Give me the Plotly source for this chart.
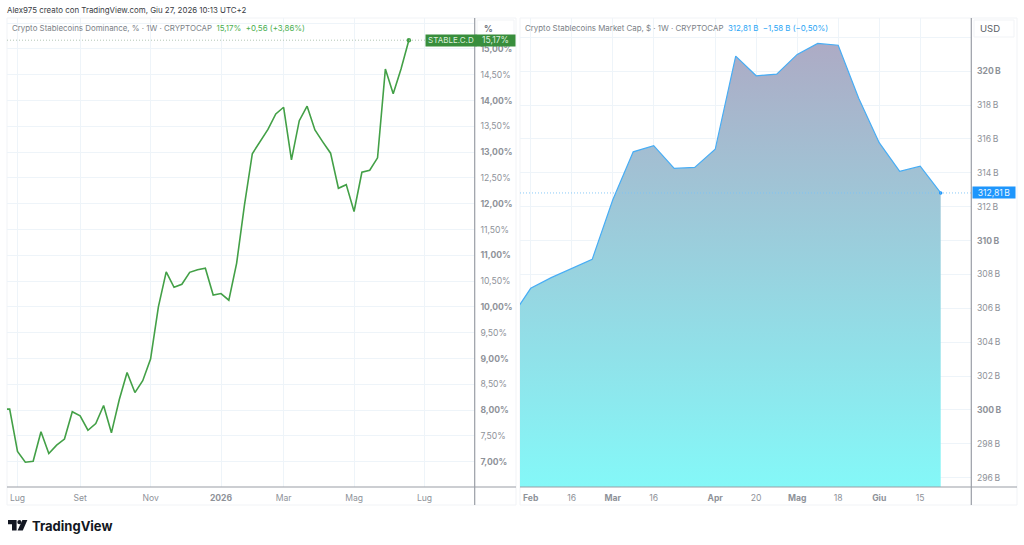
import pandas as pd
import plotly.graph_objects as go

W, H = 1024, 545

# ---- data ----
dominance_start = "2025-06-23"
dominance_values = [
    8.02, 8.02, 7.20, 6.99, 7.01, 7.58, 7.16, 7.32, 7.44, 7.97, 7.89, 7.61, 7.74,
    8.09, 7.56, 8.20, 8.73, 8.34, 8.57, 8.99, 10.00, 10.68, 10.38, 10.44, 10.67,
    10.72, 10.75, 10.23, 10.26, 10.13, 10.85, 11.98, 12.97, 13.20, 13.44, 13.74,
    13.87, 12.85, 13.61, 13.89, 13.43, 13.20, 12.98, 12.30, 12.37, 11.85, 12.61,
    12.65, 12.89, 14.61, 14.13, 14.61, 15.17,
]
mcap_start = "2026-01-26"
mcap_values = [
    305.37, 307.18, 307.81, 308.36, 308.89, 312.39, 315.24, 315.60, 314.26, 314.32,
    315.39, 320.89, 319.73, 319.83, 320.99, 321.64, 321.53, 318.40, 315.78, 314.09,
    314.39, 312.81,
]
dom_x_ticks = ["2025-07-07", "2025-09-01", "2025-11-03", "2026-01-05", "2026-03-02", "2026-05-04", "2026-07-06"]
dom_x_labels = ["Lug", "Set", "Nov", "<b>2026</b>", "Mar", "Mag", "Lug"]
cap_x_ticks = ["2026-02-02", "2026-02-16", "2026-03-02", "2026-03-16", "2026-04-06", "2026-04-20",
               "2026-05-04", "2026-05-18", "2026-06-01", "2026-06-15"]
cap_x_labels = ["<b>Feb</b>", "16", "<b>Mar</b>", "16", "<b>Apr</b>", "20", "<b>Mag</b>", "18", "<b>Giu</b>", "15"]
dom_y_ticks = [7 + 0.5 * i for i in range(18)]
dom_y_labels = [
    "" if v > 15.2 else (f"<b>{v:.2f}%</b>" if v == int(v) else f"{v:.2f}%").replace(".", ",")
    for v in dom_y_ticks
]
cap_y_ticks = list(range(296, 324, 2))
cap_y_labels = [
    "" if v > 321 else (f"<b>{v}\u2009B</b>" if v % 10 == 0 else f"{v}\u2009B") for v in cap_y_ticks
]

GREEN = "#43A047"
GREEN_LABEL = "#388E3C"
BLUE = "#47ADF5"
BLUE_LABEL = "#1E96FC"
GRID = "#EEF4F9"
SEP = "#9A9EA6"
FRAME = "#F1F3F6"
TXT = "#8E9299"
FONT = "Inter"


def px(x):
    return x / W


def py(y):
    return 1 - y / H


dom_x = pd.date_range(dominance_start, periods=len(dominance_values), freq="7D")
cap_x = pd.date_range(mcap_start, periods=len(mcap_values), freq="7D")

# pane geometry in pixels
L1, R1, L2, R2, TOP, BOT, END = 7, 474.7, 520, 971.3, 18, 487, 505
OUT1, OUT2 = 516, 1017

# axis windows
dom_anchor, dom_week = pd.Timestamp("2025-07-07"), 7.827
cap_anchor, cap_week = pd.Timestamp("2026-02-02"), 20.5
dom_range = [dom_anchor + pd.Timedelta(days=(L1 - 17.5) / dom_week * 7),
             dom_anchor + pd.Timedelta(days=(R1 - 17.5) / dom_week * 7)]
cap_range = [cap_anchor + pd.Timedelta(days=(L2 - 530.7) / cap_week * 7),
             cap_anchor + pd.Timedelta(days=(R2 - 530.7) / cap_week * 7)]

fig = go.Figure()
fig.add_trace(go.Scatter(x=dom_x, y=dominance_values, mode="lines",
                         line=dict(color=GREEN, width=1.6), xaxis="x", yaxis="y",
                         hoverinfo="skip", showlegend=False))
fig.add_trace(go.Scatter(x=dom_x[-1:], y=dominance_values[-1:], mode="markers",
                         marker=dict(color=GREEN, size=4.5), xaxis="x", yaxis="y",
                         hoverinfo="skip", showlegend=False))
fig.add_trace(go.Scatter(x=cap_x, y=mcap_values, mode="lines",
                         line=dict(color=BLUE, width=1.2), xaxis="x2", yaxis="y2",
                         fill="tozeroy",
                         fillgradient=dict(type="vertical",
                                           colorscale=[[0, "#84F8F8"], [1, "#ADABC5"]],
                                           start=295.45, stop=321.64),
                         hoverinfo="skip", showlegend=False))
fig.add_trace(go.Scatter(x=cap_x[-1:], y=mcap_values[-1:], mode="markers",
                         marker=dict(color=BLUE_LABEL, size=3.5), xaxis="x2", yaxis="y2",
                         hoverinfo="skip", showlegend=False))

axis_font = dict(family=FONT, size=8.6, color=TXT)
common_x = dict(type="date", showgrid=True, gridcolor=GRID, gridwidth=1, zeroline=False, showline=False,
                ticks="outside", ticklen=3, tickcolor="rgba(0,0,0,0)", tickfont=axis_font, tickmode="array")
common_y = dict(showgrid=True, gridcolor=GRID, gridwidth=1, zeroline=False, showline=False, side="right",
                ticks="outside", ticklen=3, tickcolor="rgba(0,0,0,0)", tickfont=axis_font, tickmode="array")

fig.update_layout(
    width=W, height=H, margin=dict(l=0, r=0, t=0, b=0),
    paper_bgcolor="white", plot_bgcolor="white", showlegend=False,
    font=dict(family=FONT),
    xaxis=dict(domain=[px(L1), px(R1)], range=dom_range, tickvals=dom_x_ticks, ticktext=dom_x_labels,
               anchor="y", **common_x),
    yaxis=dict(domain=[py(BOT), py(TOP)], range=[6.51, 15.60], tickvals=dom_y_ticks, ticktext=dom_y_labels,
               anchor="x", **common_y),
    xaxis2=dict(domain=[px(L2), px(R2)], range=cap_range, tickvals=cap_x_ticks, ticktext=cap_x_labels,
                anchor="y2", **common_x),
    yaxis2=dict(domain=[py(BOT), py(TOP)], range=[295.45, 323.14], tickvals=cap_y_ticks, ticktext=cap_y_labels,
                anchor="x2", **common_y),
)

shapes = []


def pline(x0, y0, x1, y1, color, width=1):
    shapes.append(dict(type="line", xref="paper", yref="paper", x0=px(x0), y0=py(y0), x1=px(x1), y1=py(y1),
                       line=dict(color=color, width=width)))


# pane frames
for a, b in ((L1, OUT1), (L2, OUT2)):
    shapes.append(dict(type="rect", xref="paper", yref="paper", x0=px(a), x1=px(b), y0=py(END), y1=py(TOP),
                       line=dict(color=FRAME, width=1), fillcolor="rgba(0,0,0,0)", layer="below"))
pline(L1, BOT, OUT1, BOT, SEP, 1.2)
pline(L2, BOT, OUT2, BOT, SEP, 1.2)
pline(R1, TOP, R1, END, SEP, 1.2)
pline(R2, TOP, R2, END, SEP, 1.2)

# last value lines
shapes.append(dict(type="line", xref="x domain", yref="y", x0=0, x1=1,
                   y0=dominance_values[-1], y1=dominance_values[-1],
                   line=dict(color="#A9BFAC", width=0.9, dash="1px,2px")))
shapes.append(dict(type="line", xref="x2 domain", yref="y2", x0=0, x1=1,
                   y0=mcap_values[-1], y1=mcap_values[-1],
                   line=dict(color="#7CC4F7", width=0.9, dash="1px,2px")))

# unit boxes
for a, b in ((477, 514), (974, 1014)):
    shapes.append(dict(type="rect", xref="paper", yref="paper", x0=px(a), x1=px(b), y0=py(37), y1=py(20),
                       line=dict(color="#F1F3F6", width=1), fillcolor="white"))

# logo
shapes.append(dict(type="path", xref="paper", yref="paper", fillcolor="#131722", line=dict(width=0),
                   path=f"M {px(8)} {py(520)} L {px(16.6)} {py(520)} L {px(16.6)} {py(530.6)} L {px(12)} {py(530.6)} "
                        f"L {px(12)} {py(524.3)} L {px(8)} {py(524.3)} Z"))
shapes.append(dict(type="circle", xref="paper", yref="paper", fillcolor="#131722", line=dict(width=0),
                   x0=px(17.3), x1=px(21.5), y0=py(524.3), y1=py(520)))
shapes.append(dict(type="path", xref="paper", yref="paper", fillcolor="#131722", line=dict(width=0),
                   path=f"M {px(22.4)} {py(520)} L {px(27.4)} {py(520)} L {px(22.8)} {py(530.6)} L {px(17.6)} {py(530.6)} Z"))
fig.update_layout(shapes=shapes)


def note(x, y, text, size=7.9, color=TXT, xanchor="left"):
    return dict(xref="paper", yref="paper", x=px(x), y=py(y), text=text, showarrow=False, xanchor=xanchor,
                yanchor="middle", align="left", font=dict(family=FONT, size=size, color=color),
                borderpad=0, borderwidth=0)


LG = "#4CAF50"
LB = "#2AA5F5"
annotations = [
    note(7, 10, "Alex975 creato con TradingView.com, Giu 27, 2026 10:13 UTC+2", 7.9, "#3A3D45"),
    note(12, 28, "Crypto Stablecoins Dominance, % · 1W · CRYPTOCAP  "
                 f"<span style='color:{LG}'>15,17%  +0,56 (+3,86%)</span>", 7.9, "#7B7F87"),
    note(525, 28, "Crypto Stablecoins Market Cap, $ · 1W · CRYPTOCAP  "
                  f"<span style='color:{LB}'>312,81 B  −1,58 B (−0,50%)</span>", 7.9, "#7B7F87"),
    note(484, 29, "<b>%</b>", 8.6, "#6A6E76"),
    note(979.5, 29, "USD", 9.5, "#5A5E66"),
    note(32, 525.5, "<b>TradingView</b>", 13, "#131722"),
    dict(xref="paper", yref="y", x=px(424.5), y=dominance_values[-1], text="STABLE.C.D", showarrow=False,
         xanchor="left", yanchor="middle", align="center", bgcolor=GREEN_LABEL, width=50, height=10.5,
         font=dict(family=FONT, size=8, color="#DDEEDD"), borderpad=0),
    dict(xref="paper", yref="y", x=px(474.5), y=dominance_values[-1], text="15,17%", showarrow=False,
         xanchor="left", yanchor="middle", align="center", bgcolor=GREEN_LABEL, width=39, height=10.5,
         font=dict(family=FONT, size=8.6, color="#DDEEDD"), borderpad=0),
    dict(xref="paper", yref="y2", x=px(971.8), y=mcap_values[-1], text="312,81\u2009B", showarrow=False,
         xanchor="left", yanchor="middle", align="center", bgcolor=BLUE_LABEL, width=42, height=11,
         font=dict(family=FONT, size=8.6, color="#E8F5FF"), borderpad=0),
]
fig.update_layout(annotations=annotations)

fig.write_html("out.html", config={"displayModeBar": False},
               post_script="document.body.style.margin='0';document.body.style.overflow='hidden';")
